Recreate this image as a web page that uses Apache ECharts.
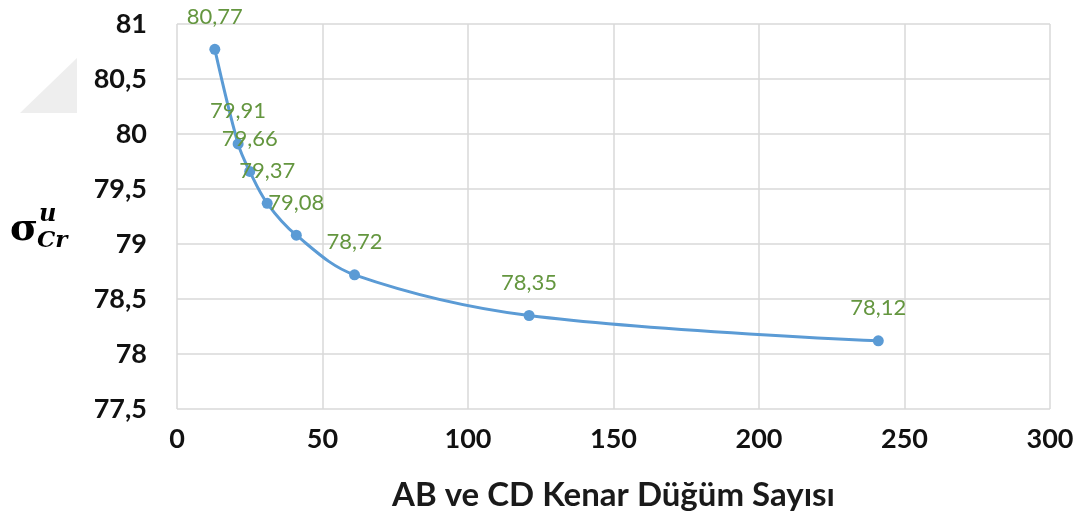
<!DOCTYPE html>
<html>
<head>
<meta charset="utf-8">
<script src="https://cdn.jsdelivr.net/npm/echarts@6/dist/echarts.min.js"></script>
<style>
  html, body { margin: 0; padding: 0; background: #fff; }
  #chart { width: 1084px; height: 524px; }
</style>
</head>
<body>
<div id="chart"></div>
<script>
// Edge node counts (AB and CD) and the resulting critical stress
const nodeCounts = [13, 21, 25, 31, 41, 61, 121, 241];
const sigmaValues = [80.77, 79.91, 79.66, 79.37, 79.08, 78.72, 78.35, 78.12];

const xTitle = 'AB ve CD Kenar Düğüm Sayısı';

const uiFont = 'Lato, "Open Sans", sans-serif';
const mathFont = '"DejaVu Serif", serif';
const comma = v => String(v).replace('.', ',');

const chart = echarts.init(document.getElementById('chart'), null, { renderer: 'canvas' });

chart.setOption({
  backgroundColor: '#ffffff',
  animation: false,
  grid: { left: 177, top: 24, right: 34, bottom: 115, containLabel: false },
  xAxis: {
    type: 'value',
    min: 0, max: 300, interval: 50,
    axisLine: { show: false },
    axisTick: { show: false },
    splitLine: { show: true, lineStyle: { color: '#d9d9d9', width: 1.5 } },
    axisLabel: {
      margin: 17,
      color: '#111',
      fontFamily: uiFont, fontWeight: 'bold', fontSize: 27
    },
    name: xTitle,
    nameLocation: 'middle',
    nameGap: 70,
    nameTextStyle: {
      color: '#1a1a1a', fontFamily: uiFont, fontWeight: 'bold', fontSize: 33
    }
  },
  yAxis: {
    type: 'value',
    min: 77.5, max: 81, interval: 0.5,
    axisLine: { show: false },
    axisTick: { show: false },
    splitLine: { show: true, lineStyle: { color: '#d9d9d9', width: 1.5 } },
    axisLabel: {
      margin: 30,
      color: '#111',
      fontFamily: uiFont, fontWeight: 'bold', fontSize: 27,
      formatter: comma
    }
  },
  series: [{
    type: 'line',
    data: nodeCounts.map((x, i) => [x, sigmaValues[i]]),
    smooth: 0.35,
    symbol: 'circle',
    symbolSize: 11,
    lineStyle: { color: '#5b9bd5', width: 3 },
    itemStyle: { color: '#5b9bd5' },
    label: {
      show: true,
      position: 'top',
      distance: 16,
      color: '#64963f',
      fontFamily: uiFont,
      fontSize: 22,
      formatter: p => p.value[1].toFixed(2).replace('.', ',')
    }
  }],
  graphic: [
    // faint grey corner shading at the left edge
    {
      type: 'polygon',
      shape: { points: [[77, 58], [77, 113], [20, 113]] },
      style: { fill: '#eeeeee' },
      silent: true
    },
    // y-axis symbol: sigma with superscript u and subscript Cr
    {
      type: 'text', x: 10, y: 230,
      style: {
        text: 'σ', font: 'bold 38px ' + mathFont, fill: '#000',
        verticalAlign: 'middle'
      }
    },
    {
      type: 'text', x: 39, y: 215,
      style: {
        text: 'u', font: 'italic bold 24px ' + mathFont, fill: '#000',
        verticalAlign: 'middle'
      }
    },
    {
      type: 'text', x: 37, y: 241,
      style: {
        text: 'Cr', font: 'italic bold 23px ' + mathFont, fill: '#000',
        verticalAlign: 'middle'
      }
    }
  ]
});
</script>
</body>
</html>
